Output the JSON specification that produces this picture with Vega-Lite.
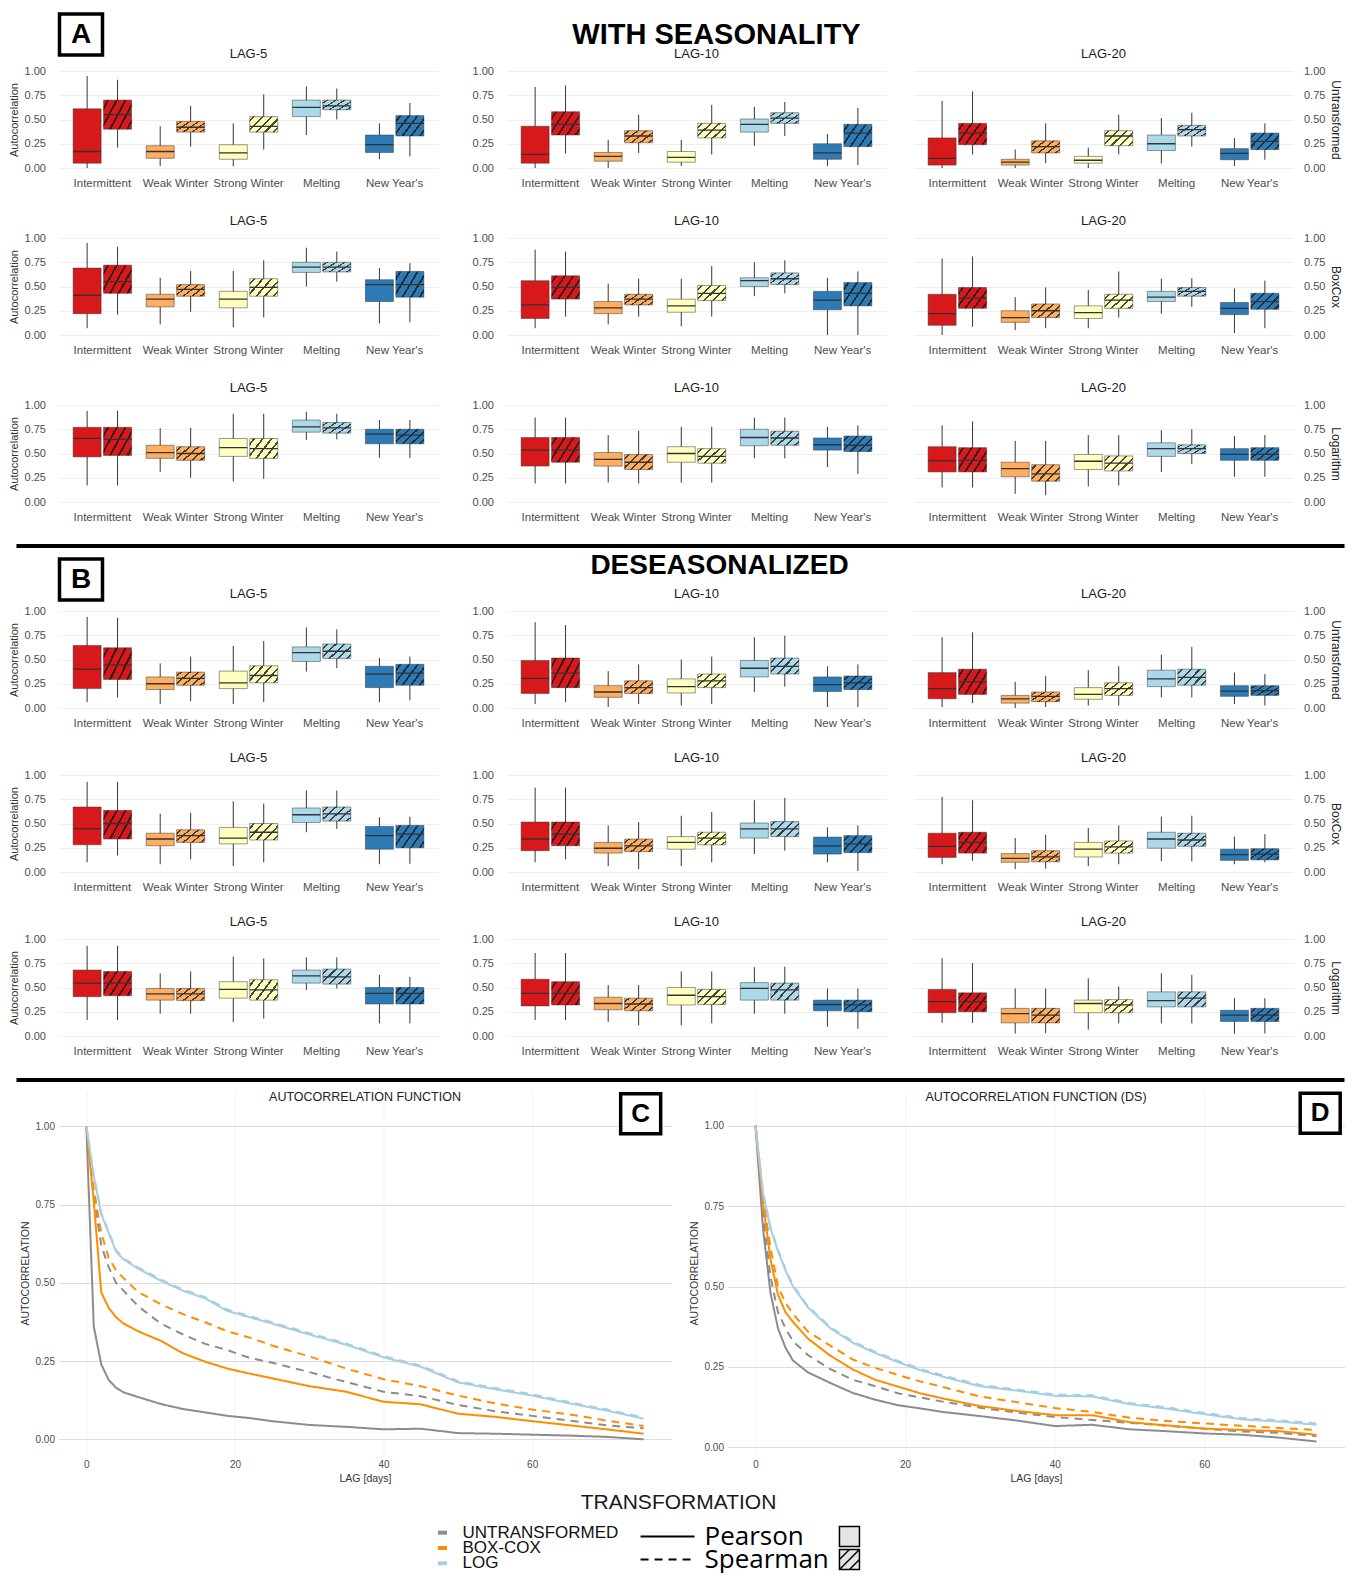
{
"$schema":"https://vega.github.io/schema/vega-lite/v6.json",
"padding":{"left":7.5,"top":12,"right":0,"bottom":0},
"background":"white",
"params":[{"name":"hatch","value":{"gradient":"linear","x1":0,"y1":0,"x2":1.19,"y2":0.655,"stops":[{"offset":0,"color":"rgba(0,0,0,0)"},{"offset":0.08,"color":"rgba(0,0,0,0)"},{"offset":0.08,"color":"rgba(25,25,25,0.8)"},{"offset":0.13,"color":"rgba(25,25,25,0.8)"},{"offset":0.13,"color":"rgba(0,0,0,0)"},{"offset":0.28,"color":"rgba(0,0,0,0)"},{"offset":0.28,"color":"rgba(25,25,25,0.8)"},{"offset":0.33,"color":"rgba(25,25,25,0.8)"},{"offset":0.33,"color":"rgba(0,0,0,0)"},{"offset":0.48,"color":"rgba(0,0,0,0)"},{"offset":0.48,"color":"rgba(25,25,25,0.8)"},{"offset":0.53,"color":"rgba(25,25,25,0.8)"},{"offset":0.53,"color":"rgba(0,0,0,0)"},{"offset":0.68,"color":"rgba(0,0,0,0)"},{"offset":0.68,"color":"rgba(25,25,25,0.8)"},{"offset":0.73,"color":"rgba(25,25,25,0.8)"},{"offset":0.73,"color":"rgba(0,0,0,0)"},{"offset":0.88,"color":"rgba(0,0,0,0)"},{"offset":0.88,"color":"rgba(25,25,25,0.8)"},{"offset":0.93,"color":"rgba(25,25,25,0.8)"},{"offset":0.93,"color":"rgba(0,0,0,0)"},{"offset":1,"color":"rgba(0,0,0,0)"}]}}],
"config":{
"font":"Liberation Sans",
"view":{"stroke":null},
"axis":{"domain":false,"ticks":false,"tickSize":0,"labelOverlap":false,"labelColor":"#4d4d4d","titleColor":"#333333","titleFontWeight":"normal","gridColor":"#eeeeee","labelFontSize":11,"titleFontSize":11},
"axisBand":{"labelAngle":0,"labelPadding":9,"labelFontSize":11.5,"grid":false},
"axisY":{"format":".2f","labelPadding":13},
"scale":{"bandPaddingInner":0.28,"bandPaddingOuter":0.14},
"range":{"category":["#d7191c","#fdae61","#ffffbf","#abd9e9","#2c7bb6"]},
"title":{"fontSize":13,"fontWeight":"normal","color":"#1a1a1a","offset":4.5,"frame":"group"},
"style":{
"whisk":{"stroke":"#666666","strokeWidth":0.8},
"box":{"stroke":"#3a3a3a","strokeWidth":0.6,"strokeOpacity":0.85,"fillOpacity":1},
"med":{"fillOpacity":0,"stroke":"#333333","strokeWidth":1.3}
}
},
"datasets":{
"box":[
{"s":"A","t":"U","l":5,"c":"Intermittent","m":"P","lo":0,"q1":0.05,"md":0.17,"q3":0.61,"hi":0.95},
{"s":"A","t":"U","l":5,"c":"Intermittent","m":"S","lo":0.21,"q1":0.40,"md":0.55,"q3":0.70,"hi":0.91},
{"s":"A","t":"U","l":5,"c":"Weak Winter","m":"P","lo":0.02,"q1":0.10,"md":0.17,"q3":0.23,"hi":0.43},
{"s":"A","t":"U","l":5,"c":"Weak Winter","m":"S","lo":0.22,"q1":0.37,"md":0.42,"q3":0.48,"hi":0.64},
{"s":"A","t":"U","l":5,"c":"Strong Winter","m":"P","lo":0.02,"q1":0.09,"md":0.155,"q3":0.24,"hi":0.46},
{"s":"A","t":"U","l":5,"c":"Strong Winter","m":"S","lo":0.19,"q1":0.37,"md":0.43,"q3":0.53,"hi":0.76},
{"s":"A","t":"U","l":5,"c":"Melting","m":"P","lo":0.34,"q1":0.53,"md":0.625,"q3":0.70,"hi":0.84},
{"s":"A","t":"U","l":5,"c":"Melting","m":"S","lo":0.50,"q1":0.60,"md":0.64,"q3":0.70,"hi":0.82},
{"s":"A","t":"U","l":5,"c":"New Year's","m":"P","lo":0.09,"q1":0.16,"md":0.24,"q3":0.34,"hi":0.46},
{"s":"A","t":"U","l":5,"c":"New Year's","m":"S","lo":0.12,"q1":0.33,"md":0.46,"q3":0.54,"hi":0.67},
{"s":"A","t":"U","l":10,"c":"Intermittent","m":"P","lo":0,"q1":0.05,"md":0.14,"q3":0.43,"hi":0.835},
{"s":"A","t":"U","l":10,"c":"Intermittent","m":"S","lo":0.15,"q1":0.34,"md":0.45,"q3":0.58,"hi":0.85},
{"s":"A","t":"U","l":10,"c":"Weak Winter","m":"P","lo":0,"q1":0.07,"md":0.12,"q3":0.16,"hi":0.29},
{"s":"A","t":"U","l":10,"c":"Weak Winter","m":"S","lo":0.155,"q1":0.26,"md":0.33,"q3":0.385,"hi":0.55},
{"s":"A","t":"U","l":10,"c":"Strong Winter","m":"P","lo":0.02,"q1":0.06,"md":0.11,"q3":0.17,"hi":0.29},
{"s":"A","t":"U","l":10,"c":"Strong Winter","m":"S","lo":0.14,"q1":0.31,"md":0.39,"q3":0.46,"hi":0.65},
{"s":"A","t":"U","l":10,"c":"Melting","m":"P","lo":0.23,"q1":0.37,"md":0.45,"q3":0.505,"hi":0.63},
{"s":"A","t":"U","l":10,"c":"Melting","m":"S","lo":0.33,"q1":0.46,"md":0.515,"q3":0.57,"hi":0.68},
{"s":"A","t":"U","l":10,"c":"New Year's","m":"P","lo":0.02,"q1":0.09,"md":0.155,"q3":0.25,"hi":0.35},
{"s":"A","t":"U","l":10,"c":"New Year's","m":"S","lo":0.03,"q1":0.22,"md":0.36,"q3":0.45,"hi":0.62},
{"s":"A","t":"U","l":20,"c":"Intermittent","m":"P","lo":0,"q1":0.03,"md":0.10,"q3":0.31,"hi":0.69},
{"s":"A","t":"U","l":20,"c":"Intermittent","m":"S","lo":0.14,"q1":0.24,"md":0.36,"q3":0.46,"hi":0.79},
{"s":"A","t":"U","l":20,"c":"Weak Winter","m":"P","lo":0,"q1":0.03,"md":0.06,"q3":0.09,"hi":0.19},
{"s":"A","t":"U","l":20,"c":"Weak Winter","m":"S","lo":0.05,"q1":0.155,"md":0.22,"q3":0.28,"hi":0.46},
{"s":"A","t":"U","l":20,"c":"Strong Winter","m":"P","lo":0,"q1":0.05,"md":0.08,"q3":0.12,"hi":0.21},
{"s":"A","t":"U","l":20,"c":"Strong Winter","m":"S","lo":0.14,"q1":0.23,"md":0.33,"q3":0.385,"hi":0.55},
{"s":"A","t":"U","l":20,"c":"Melting","m":"P","lo":0.045,"q1":0.18,"md":0.25,"q3":0.34,"hi":0.515},
{"s":"A","t":"U","l":20,"c":"Melting","m":"S","lo":0.22,"q1":0.33,"md":0.395,"q3":0.44,"hi":0.57},
{"s":"A","t":"U","l":20,"c":"New Year's","m":"P","lo":0.02,"q1":0.085,"md":0.15,"q3":0.20,"hi":0.31},
{"s":"A","t":"U","l":20,"c":"New Year's","m":"S","lo":0.085,"q1":0.19,"md":0.275,"q3":0.36,"hi":0.46},
{"s":"A","t":"B","l":5,"c":"Intermittent","m":"P","lo":0.07,"q1":0.22,"md":0.41,"q3":0.69,"hi":0.95},
{"s":"A","t":"B","l":5,"c":"Intermittent","m":"S","lo":0.21,"q1":0.43,"md":0.55,"q3":0.72,"hi":0.91},
{"s":"A","t":"B","l":5,"c":"Weak Winter","m":"P","lo":0.11,"q1":0.29,"md":0.37,"q3":0.42,"hi":0.59},
{"s":"A","t":"B","l":5,"c":"Weak Winter","m":"S","lo":0.24,"q1":0.40,"md":0.47,"q3":0.52,"hi":0.66},
{"s":"A","t":"B","l":5,"c":"Strong Winter","m":"P","lo":0.08,"q1":0.28,"md":0.37,"q3":0.45,"hi":0.66},
{"s":"A","t":"B","l":5,"c":"Strong Winter","m":"S","lo":0.18,"q1":0.40,"md":0.49,"q3":0.58,"hi":0.77},
{"s":"A","t":"B","l":5,"c":"Melting","m":"P","lo":0.50,"q1":0.645,"md":0.70,"q3":0.75,"hi":0.90},
{"s":"A","t":"B","l":5,"c":"Melting","m":"S","lo":0.55,"q1":0.65,"md":0.70,"q3":0.75,"hi":0.86},
{"s":"A","t":"B","l":5,"c":"New Year's","m":"P","lo":0.12,"q1":0.345,"md":0.52,"q3":0.57,"hi":0.69},
{"s":"A","t":"B","l":5,"c":"New Year's","m":"S","lo":0.13,"q1":0.39,"md":0.52,"q3":0.655,"hi":0.74},
{"s":"A","t":"B","l":10,"c":"Intermittent","m":"P","lo":0.07,"q1":0.17,"md":0.31,"q3":0.56,"hi":0.88},
{"s":"A","t":"B","l":10,"c":"Intermittent","m":"S","lo":0.19,"q1":0.37,"md":0.49,"q3":0.61,"hi":0.86},
{"s":"A","t":"B","l":10,"c":"Weak Winter","m":"P","lo":0.11,"q1":0.22,"md":0.28,"q3":0.345,"hi":0.53},
{"s":"A","t":"B","l":10,"c":"Weak Winter","m":"S","lo":0.19,"q1":0.31,"md":0.37,"q3":0.42,"hi":0.58},
{"s":"A","t":"B","l":10,"c":"Strong Winter","m":"P","lo":0.09,"q1":0.235,"md":0.30,"q3":0.37,"hi":0.58},
{"s":"A","t":"B","l":10,"c":"Strong Winter","m":"S","lo":0.19,"q1":0.355,"md":0.43,"q3":0.51,"hi":0.71},
{"s":"A","t":"B","l":10,"c":"Melting","m":"P","lo":0.40,"q1":0.50,"md":0.56,"q3":0.59,"hi":0.75},
{"s":"A","t":"B","l":10,"c":"Melting","m":"S","lo":0.43,"q1":0.52,"md":0.58,"q3":0.64,"hi":0.77},
{"s":"A","t":"B","l":10,"c":"New Year's","m":"P","lo":0,"q1":0.26,"md":0.36,"q3":0.45,"hi":0.59},
{"s":"A","t":"B","l":10,"c":"New Year's","m":"S","lo":0,"q1":0.30,"md":0.43,"q3":0.54,"hi":0.655},
{"s":"A","t":"B","l":20,"c":"Intermittent","m":"P","lo":0,"q1":0.10,"md":0.22,"q3":0.42,"hi":0.79},
{"s":"A","t":"B","l":20,"c":"Intermittent","m":"S","lo":0.085,"q1":0.275,"md":0.38,"q3":0.49,"hi":0.81},
{"s":"A","t":"B","l":20,"c":"Weak Winter","m":"P","lo":0.05,"q1":0.13,"md":0.18,"q3":0.25,"hi":0.39},
{"s":"A","t":"B","l":20,"c":"Weak Winter","m":"S","lo":0.07,"q1":0.18,"md":0.25,"q3":0.32,"hi":0.49},
{"s":"A","t":"B","l":20,"c":"Strong Winter","m":"P","lo":0.07,"q1":0.17,"md":0.23,"q3":0.30,"hi":0.465},
{"s":"A","t":"B","l":20,"c":"Strong Winter","m":"S","lo":0.18,"q1":0.275,"md":0.36,"q3":0.42,"hi":0.655},
{"s":"A","t":"B","l":20,"c":"Melting","m":"P","lo":0.22,"q1":0.345,"md":0.39,"q3":0.45,"hi":0.58},
{"s":"A","t":"B","l":20,"c":"Melting","m":"S","lo":0.29,"q1":0.40,"md":0.45,"q3":0.49,"hi":0.585},
{"s":"A","t":"B","l":20,"c":"New Year's","m":"P","lo":0.02,"q1":0.21,"md":0.275,"q3":0.335,"hi":0.48},
{"s":"A","t":"B","l":20,"c":"New Year's","m":"S","lo":0.07,"q1":0.265,"md":0.345,"q3":0.43,"hi":0.56},
{"s":"A","t":"L","l":5,"c":"Intermittent","m":"P","lo":0.17,"q1":0.465,"md":0.655,"q3":0.77,"hi":0.94},
{"s":"A","t":"L","l":5,"c":"Intermittent","m":"S","lo":0.17,"q1":0.48,"md":0.645,"q3":0.77,"hi":0.94},
{"s":"A","t":"L","l":5,"c":"Weak Winter","m":"P","lo":0.31,"q1":0.45,"md":0.51,"q3":0.585,"hi":0.76},
{"s":"A","t":"L","l":5,"c":"Weak Winter","m":"S","lo":0.25,"q1":0.43,"md":0.50,"q3":0.57,"hi":0.765},
{"s":"A","t":"L","l":5,"c":"Strong Winter","m":"P","lo":0.21,"q1":0.47,"md":0.56,"q3":0.655,"hi":0.91},
{"s":"A","t":"L","l":5,"c":"Strong Winter","m":"S","lo":0.24,"q1":0.45,"md":0.55,"q3":0.655,"hi":0.91},
{"s":"A","t":"L","l":5,"c":"Melting","m":"P","lo":0.64,"q1":0.72,"md":0.775,"q3":0.845,"hi":0.93},
{"s":"A","t":"L","l":5,"c":"Melting","m":"S","lo":0.645,"q1":0.71,"md":0.765,"q3":0.82,"hi":0.91},
{"s":"A","t":"L","l":5,"c":"New Year's","m":"P","lo":0.455,"q1":0.60,"md":0.70,"q3":0.75,"hi":0.845},
{"s":"A","t":"L","l":5,"c":"New Year's","m":"S","lo":0.455,"q1":0.60,"md":0.69,"q3":0.75,"hi":0.845},
{"s":"A","t":"L","l":10,"c":"Intermittent","m":"P","lo":0.19,"q1":0.37,"md":0.535,"q3":0.665,"hi":0.87},
{"s":"A","t":"L","l":10,"c":"Intermittent","m":"S","lo":0.19,"q1":0.41,"md":0.535,"q3":0.665,"hi":0.87},
{"s":"A","t":"L","l":10,"c":"Weak Winter","m":"P","lo":0.20,"q1":0.37,"md":0.44,"q3":0.51,"hi":0.69},
{"s":"A","t":"L","l":10,"c":"Weak Winter","m":"S","lo":0.19,"q1":0.335,"md":0.41,"q3":0.49,"hi":0.735},
{"s":"A","t":"L","l":10,"c":"Strong Winter","m":"P","lo":0.20,"q1":0.41,"md":0.50,"q3":0.57,"hi":0.775},
{"s":"A","t":"L","l":10,"c":"Strong Winter","m":"S","lo":0.20,"q1":0.40,"md":0.47,"q3":0.55,"hi":0.775},
{"s":"A","t":"L","l":10,"c":"Melting","m":"P","lo":0.45,"q1":0.58,"md":0.665,"q3":0.75,"hi":0.87},
{"s":"A","t":"L","l":10,"c":"Melting","m":"S","lo":0.45,"q1":0.585,"md":0.66,"q3":0.73,"hi":0.87},
{"s":"A","t":"L","l":10,"c":"New Year's","m":"P","lo":0.36,"q1":0.535,"md":0.59,"q3":0.66,"hi":0.775},
{"s":"A","t":"L","l":10,"c":"New Year's","m":"S","lo":0.29,"q1":0.52,"md":0.585,"q3":0.68,"hi":0.79},
{"s":"A","t":"L","l":20,"c":"Intermittent","m":"P","lo":0.15,"q1":0.31,"md":0.425,"q3":0.57,"hi":0.79},
{"s":"A","t":"L","l":20,"c":"Intermittent","m":"S","lo":0.15,"q1":0.31,"md":0.43,"q3":0.56,"hi":0.83},
{"s":"A","t":"L","l":20,"c":"Weak Winter","m":"P","lo":0.085,"q1":0.26,"md":0.345,"q3":0.41,"hi":0.63},
{"s":"A","t":"L","l":20,"c":"Weak Winter","m":"S","lo":0.07,"q1":0.215,"md":0.29,"q3":0.385,"hi":0.63},
{"s":"A","t":"L","l":20,"c":"Strong Winter","m":"P","lo":0.16,"q1":0.335,"md":0.42,"q3":0.49,"hi":0.69},
{"s":"A","t":"L","l":20,"c":"Strong Winter","m":"S","lo":0.17,"q1":0.32,"md":0.40,"q3":0.475,"hi":0.69},
{"s":"A","t":"L","l":20,"c":"Melting","m":"P","lo":0.31,"q1":0.47,"md":0.55,"q3":0.61,"hi":0.74},
{"s":"A","t":"L","l":20,"c":"Melting","m":"S","lo":0.39,"q1":0.50,"md":0.55,"q3":0.59,"hi":0.75},
{"s":"A","t":"L","l":20,"c":"New Year's","m":"P","lo":0.26,"q1":0.43,"md":0.49,"q3":0.55,"hi":0.68},
{"s":"A","t":"L","l":20,"c":"New Year's","m":"S","lo":0.26,"q1":0.43,"md":0.49,"q3":0.56,"hi":0.69},
{"s":"B","t":"U","l":5,"c":"Intermittent","m":"P","lo":0.06,"q1":0.20,"md":0.40,"q3":0.645,"hi":0.94},
{"s":"B","t":"U","l":5,"c":"Intermittent","m":"S","lo":0.11,"q1":0.295,"md":0.445,"q3":0.62,"hi":0.93},
{"s":"B","t":"U","l":5,"c":"Weak Winter","m":"P","lo":0.04,"q1":0.19,"md":0.25,"q3":0.32,"hi":0.46},
{"s":"B","t":"U","l":5,"c":"Weak Winter","m":"S","lo":0.07,"q1":0.235,"md":0.305,"q3":0.37,"hi":0.53},
{"s":"B","t":"U","l":5,"c":"Strong Winter","m":"P","lo":0.04,"q1":0.20,"md":0.26,"q3":0.38,"hi":0.64},
{"s":"B","t":"U","l":5,"c":"Strong Winter","m":"S","lo":0.06,"q1":0.26,"md":0.335,"q3":0.435,"hi":0.69},
{"s":"B","t":"U","l":5,"c":"Melting","m":"P","lo":0.375,"q1":0.48,"md":0.57,"q3":0.63,"hi":0.83},
{"s":"B","t":"U","l":5,"c":"Melting","m":"S","lo":0.41,"q1":0.51,"md":0.585,"q3":0.66,"hi":0.81},
{"s":"B","t":"U","l":5,"c":"New Year's","m":"P","lo":0.06,"q1":0.21,"md":0.35,"q3":0.43,"hi":0.515},
{"s":"B","t":"U","l":5,"c":"New Year's","m":"S","lo":0.08,"q1":0.235,"md":0.36,"q3":0.45,"hi":0.53},
{"s":"B","t":"U","l":10,"c":"Intermittent","m":"P","lo":0.04,"q1":0.15,"md":0.305,"q3":0.49,"hi":0.885},
{"s":"B","t":"U","l":10,"c":"Intermittent","m":"S","lo":0.06,"q1":0.21,"md":0.36,"q3":0.515,"hi":0.855},
{"s":"B","t":"U","l":10,"c":"Weak Winter","m":"P","lo":0.01,"q1":0.11,"md":0.165,"q3":0.23,"hi":0.38},
{"s":"B","t":"U","l":10,"c":"Weak Winter","m":"S","lo":0.04,"q1":0.15,"md":0.21,"q3":0.28,"hi":0.45},
{"s":"B","t":"U","l":10,"c":"Strong Winter","m":"P","lo":0.025,"q1":0.155,"md":0.22,"q3":0.30,"hi":0.50},
{"s":"B","t":"U","l":10,"c":"Strong Winter","m":"S","lo":0.04,"q1":0.21,"md":0.28,"q3":0.35,"hi":0.53},
{"s":"B","t":"U","l":10,"c":"Melting","m":"P","lo":0.165,"q1":0.32,"md":0.41,"q3":0.49,"hi":0.73},
{"s":"B","t":"U","l":10,"c":"Melting","m":"S","lo":0.22,"q1":0.35,"md":0.43,"q3":0.515,"hi":0.745},
{"s":"B","t":"U","l":10,"c":"New Year's","m":"P","lo":0.01,"q1":0.17,"md":0.24,"q3":0.32,"hi":0.43},
{"s":"B","t":"U","l":10,"c":"New Year's","m":"S","lo":0.01,"q1":0.19,"md":0.26,"q3":0.33,"hi":0.45},
{"s":"B","t":"U","l":20,"c":"Intermittent","m":"P","lo":0.01,"q1":0.095,"md":0.20,"q3":0.365,"hi":0.73},
{"s":"B","t":"U","l":20,"c":"Intermittent","m":"S","lo":0.05,"q1":0.14,"md":0.27,"q3":0.40,"hi":0.78},
{"s":"B","t":"U","l":20,"c":"Weak Winter","m":"P","lo":0,"q1":0.05,"md":0.095,"q3":0.13,"hi":0.27},
{"s":"B","t":"U","l":20,"c":"Weak Winter","m":"S","lo":0.01,"q1":0.065,"md":0.12,"q3":0.165,"hi":0.33},
{"s":"B","t":"U","l":20,"c":"Strong Winter","m":"P","lo":0.025,"q1":0.09,"md":0.14,"q3":0.21,"hi":0.39},
{"s":"B","t":"U","l":20,"c":"Strong Winter","m":"S","lo":0.025,"q1":0.13,"md":0.20,"q3":0.26,"hi":0.43},
{"s":"B","t":"U","l":20,"c":"Melting","m":"P","lo":0.11,"q1":0.22,"md":0.30,"q3":0.39,"hi":0.55},
{"s":"B","t":"U","l":20,"c":"Melting","m":"S","lo":0.11,"q1":0.235,"md":0.315,"q3":0.40,"hi":0.63},
{"s":"B","t":"U","l":20,"c":"New Year's","m":"P","lo":0.04,"q1":0.12,"md":0.175,"q3":0.23,"hi":0.365},
{"s":"B","t":"U","l":20,"c":"New Year's","m":"S","lo":0.025,"q1":0.13,"md":0.18,"q3":0.23,"hi":0.35},
{"s":"B","t":"B","l":5,"c":"Intermittent","m":"P","lo":0.10,"q1":0.28,"md":0.445,"q3":0.67,"hi":0.93},
{"s":"B","t":"B","l":5,"c":"Intermittent","m":"S","lo":0.17,"q1":0.34,"md":0.50,"q3":0.635,"hi":0.93},
{"s":"B","t":"B","l":5,"c":"Weak Winter","m":"P","lo":0.08,"q1":0.27,"md":0.34,"q3":0.40,"hi":0.60},
{"s":"B","t":"B","l":5,"c":"Weak Winter","m":"S","lo":0.13,"q1":0.305,"md":0.375,"q3":0.435,"hi":0.61},
{"s":"B","t":"B","l":5,"c":"Strong Winter","m":"P","lo":0.06,"q1":0.29,"md":0.35,"q3":0.46,"hi":0.73},
{"s":"B","t":"B","l":5,"c":"Strong Winter","m":"S","lo":0.10,"q1":0.33,"md":0.41,"q3":0.50,"hi":0.705},
{"s":"B","t":"B","l":5,"c":"Melting","m":"P","lo":0.41,"q1":0.51,"md":0.59,"q3":0.66,"hi":0.84},
{"s":"B","t":"B","l":5,"c":"Melting","m":"S","lo":0.445,"q1":0.525,"md":0.60,"q3":0.67,"hi":0.84},
{"s":"B","t":"B","l":5,"c":"New Year's","m":"P","lo":0.08,"q1":0.235,"md":0.375,"q3":0.47,"hi":0.565},
{"s":"B","t":"B","l":5,"c":"New Year's","m":"S","lo":0.085,"q1":0.25,"md":0.39,"q3":0.48,"hi":0.57},
{"s":"B","t":"B","l":10,"c":"Intermittent","m":"P","lo":0.10,"q1":0.22,"md":0.34,"q3":0.515,"hi":0.87},
{"s":"B","t":"B","l":10,"c":"Intermittent","m":"S","lo":0.13,"q1":0.27,"md":0.39,"q3":0.515,"hi":0.87},
{"s":"B","t":"B","l":10,"c":"Weak Winter","m":"P","lo":0.06,"q1":0.195,"md":0.245,"q3":0.305,"hi":0.48},
{"s":"B","t":"B","l":10,"c":"Weak Winter","m":"S","lo":0.03,"q1":0.21,"md":0.27,"q3":0.34,"hi":0.515},
{"s":"B","t":"B","l":10,"c":"Strong Winter","m":"P","lo":0.06,"q1":0.235,"md":0.305,"q3":0.365,"hi":0.58},
{"s":"B","t":"B","l":10,"c":"Strong Winter","m":"S","lo":0.10,"q1":0.28,"md":0.35,"q3":0.41,"hi":0.62},
{"s":"B","t":"B","l":10,"c":"Melting","m":"P","lo":0.185,"q1":0.35,"md":0.445,"q3":0.505,"hi":0.74},
{"s":"B","t":"B","l":10,"c":"Melting","m":"S","lo":0.22,"q1":0.365,"md":0.445,"q3":0.52,"hi":0.765},
{"s":"B","t":"B","l":10,"c":"New Year's","m":"P","lo":0.10,"q1":0.185,"md":0.27,"q3":0.36,"hi":0.46},
{"s":"B","t":"B","l":10,"c":"New Year's","m":"S","lo":0.01,"q1":0.20,"md":0.29,"q3":0.375,"hi":0.48},
{"s":"B","t":"B","l":20,"c":"Intermittent","m":"P","lo":0.08,"q1":0.15,"md":0.265,"q3":0.40,"hi":0.775},
{"s":"B","t":"B","l":20,"c":"Intermittent","m":"S","lo":0.115,"q1":0.195,"md":0.305,"q3":0.41,"hi":0.74},
{"s":"B","t":"B","l":20,"c":"Weak Winter","m":"P","lo":0.03,"q1":0.10,"md":0.14,"q3":0.19,"hi":0.35},
{"s":"B","t":"B","l":20,"c":"Weak Winter","m":"S","lo":0.035,"q1":0.105,"md":0.155,"q3":0.22,"hi":0.385},
{"s":"B","t":"B","l":20,"c":"Strong Winter","m":"P","lo":0.06,"q1":0.155,"md":0.235,"q3":0.305,"hi":0.455},
{"s":"B","t":"B","l":20,"c":"Strong Winter","m":"S","lo":0.08,"q1":0.195,"md":0.26,"q3":0.32,"hi":0.48},
{"s":"B","t":"B","l":20,"c":"Melting","m":"P","lo":0.11,"q1":0.245,"md":0.34,"q3":0.41,"hi":0.57},
{"s":"B","t":"B","l":20,"c":"Melting","m":"S","lo":0.11,"q1":0.265,"md":0.33,"q3":0.40,"hi":0.58},
{"s":"B","t":"B","l":20,"c":"New Year's","m":"P","lo":0.08,"q1":0.12,"md":0.18,"q3":0.235,"hi":0.365},
{"s":"B","t":"B","l":20,"c":"New Year's","m":"S","lo":0.10,"q1":0.125,"md":0.185,"q3":0.24,"hi":0.39},
{"s":"B","t":"L","l":5,"c":"Intermittent","m":"P","lo":0.165,"q1":0.405,"md":0.545,"q3":0.68,"hi":0.93},
{"s":"B","t":"L","l":5,"c":"Intermittent","m":"S","lo":0.165,"q1":0.415,"md":0.545,"q3":0.665,"hi":0.93},
{"s":"B","t":"L","l":5,"c":"Weak Winter","m":"P","lo":0.23,"q1":0.37,"md":0.435,"q3":0.49,"hi":0.645},
{"s":"B","t":"L","l":5,"c":"Weak Winter","m":"S","lo":0.23,"q1":0.365,"md":0.435,"q3":0.49,"hi":0.665},
{"s":"B","t":"L","l":5,"c":"Strong Winter","m":"P","lo":0.145,"q1":0.39,"md":0.48,"q3":0.56,"hi":0.82},
{"s":"B","t":"L","l":5,"c":"Strong Winter","m":"S","lo":0.18,"q1":0.37,"md":0.475,"q3":0.58,"hi":0.80},
{"s":"B","t":"L","l":5,"c":"Melting","m":"P","lo":0.475,"q1":0.545,"md":0.62,"q3":0.68,"hi":0.81},
{"s":"B","t":"L","l":5,"c":"Melting","m":"S","lo":0.49,"q1":0.535,"md":0.61,"q3":0.69,"hi":0.81},
{"s":"B","t":"L","l":5,"c":"New Year's","m":"P","lo":0.13,"q1":0.33,"md":0.44,"q3":0.50,"hi":0.63},
{"s":"B","t":"L","l":5,"c":"New Year's","m":"S","lo":0.13,"q1":0.33,"md":0.44,"q3":0.50,"hi":0.61},
{"s":"B","t":"L","l":10,"c":"Intermittent","m":"P","lo":0.165,"q1":0.31,"md":0.44,"q3":0.585,"hi":0.855},
{"s":"B","t":"L","l":10,"c":"Intermittent","m":"S","lo":0.165,"q1":0.32,"md":0.44,"q3":0.56,"hi":0.855},
{"s":"B","t":"L","l":10,"c":"Weak Winter","m":"P","lo":0.145,"q1":0.27,"md":0.335,"q3":0.40,"hi":0.525},
{"s":"B","t":"L","l":10,"c":"Weak Winter","m":"S","lo":0.11,"q1":0.26,"md":0.33,"q3":0.39,"hi":0.525},
{"s":"B","t":"L","l":10,"c":"Strong Winter","m":"P","lo":0.11,"q1":0.32,"md":0.42,"q3":0.50,"hi":0.665},
{"s":"B","t":"L","l":10,"c":"Strong Winter","m":"S","lo":0.13,"q1":0.325,"md":0.405,"q3":0.48,"hi":0.665},
{"s":"B","t":"L","l":10,"c":"Melting","m":"P","lo":0.23,"q1":0.37,"md":0.49,"q3":0.55,"hi":0.71},
{"s":"B","t":"L","l":10,"c":"Melting","m":"S","lo":0.23,"q1":0.37,"md":0.475,"q3":0.545,"hi":0.715},
{"s":"B","t":"L","l":10,"c":"New Year's","m":"P","lo":0.095,"q1":0.26,"md":0.325,"q3":0.37,"hi":0.49},
{"s":"B","t":"L","l":10,"c":"New Year's","m":"S","lo":0.075,"q1":0.25,"md":0.32,"q3":0.37,"hi":0.49},
{"s":"B","t":"L","l":20,"c":"Intermittent","m":"P","lo":0.135,"q1":0.24,"md":0.355,"q3":0.48,"hi":0.80},
{"s":"B","t":"L","l":20,"c":"Intermittent","m":"S","lo":0.135,"q1":0.25,"md":0.355,"q3":0.445,"hi":0.75},
{"s":"B","t":"L","l":20,"c":"Weak Winter","m":"P","lo":0.025,"q1":0.135,"md":0.23,"q3":0.285,"hi":0.49},
{"s":"B","t":"L","l":20,"c":"Weak Winter","m":"S","lo":0.03,"q1":0.135,"md":0.215,"q3":0.285,"hi":0.49},
{"s":"B","t":"L","l":20,"c":"Strong Winter","m":"P","lo":0.065,"q1":0.24,"md":0.335,"q3":0.37,"hi":0.595},
{"s":"B","t":"L","l":20,"c":"Strong Winter","m":"S","lo":0.13,"q1":0.24,"md":0.32,"q3":0.375,"hi":0.51},
{"s":"B","t":"L","l":20,"c":"Melting","m":"P","lo":0.13,"q1":0.30,"md":0.365,"q3":0.455,"hi":0.645},
{"s":"B","t":"L","l":20,"c":"Melting","m":"S","lo":0.13,"q1":0.30,"md":0.39,"q3":0.455,"hi":0.63},
{"s":"B","t":"L","l":20,"c":"New Year's","m":"P","lo":0.025,"q1":0.15,"md":0.215,"q3":0.265,"hi":0.39},
{"s":"B","t":"L","l":20,"c":"New Year's","m":"S","lo":0.025,"q1":0.15,"md":0.215,"q3":0.285,"hi":0.39}
],
"acf":[
{"p":"C","t":"U","m":"P","x":0,"y":1},{"p":"C","t":"U","m":"P","x":1,"y":0.36},{"p":"C","t":"U","m":"P","x":2,"y":0.24},{"p":"C","t":"U","m":"P","x":3,"y":0.19},{"p":"C","t":"U","m":"P","x":4,"y":0.165},{"p":"C","t":"U","m":"P","x":5,"y":0.15},{"p":"C","t":"U","m":"P","x":7,"y":0.135},{"p":"C","t":"U","m":"P","x":10,"y":0.113},{"p":"C","t":"U","m":"P","x":13,"y":0.097},{"p":"C","t":"U","m":"P","x":16,"y":0.086},{"p":"C","t":"U","m":"P","x":19,"y":0.075},{"p":"C","t":"U","m":"P","x":22,"y":0.068},{"p":"C","t":"U","m":"P","x":25,"y":0.058},{"p":"C","t":"U","m":"P","x":30,"y":0.046},{"p":"C","t":"U","m":"P","x":35,"y":0.04},{"p":"C","t":"U","m":"P","x":40,"y":0.032},{"p":"C","t":"U","m":"P","x":45,"y":0.034},{"p":"C","t":"U","m":"P","x":50,"y":0.02},{"p":"C","t":"U","m":"P","x":55,"y":0.018},{"p":"C","t":"U","m":"P","x":60,"y":0.015},{"p":"C","t":"U","m":"P","x":65,"y":0.012},{"p":"C","t":"U","m":"P","x":70,"y":0.008},{"p":"C","t":"U","m":"P","x":75,"y":0.0},
{"p":"C","t":"U","m":"S","x":0,"y":1},{"p":"C","t":"U","m":"S","x":1,"y":0.78},{"p":"C","t":"U","m":"S","x":2,"y":0.62},{"p":"C","t":"U","m":"S","x":3,"y":0.55},{"p":"C","t":"U","m":"S","x":4,"y":0.5},{"p":"C","t":"U","m":"S","x":5,"y":0.475},{"p":"C","t":"U","m":"S","x":7,"y":0.425},{"p":"C","t":"U","m":"S","x":10,"y":0.37},{"p":"C","t":"U","m":"S","x":13,"y":0.335},{"p":"C","t":"U","m":"S","x":16,"y":0.305},{"p":"C","t":"U","m":"S","x":19,"y":0.285},{"p":"C","t":"U","m":"S","x":22,"y":0.26},{"p":"C","t":"U","m":"S","x":25,"y":0.245},{"p":"C","t":"U","m":"S","x":30,"y":0.215},{"p":"C","t":"U","m":"S","x":35,"y":0.183},{"p":"C","t":"U","m":"S","x":40,"y":0.152},{"p":"C","t":"U","m":"S","x":45,"y":0.138},{"p":"C","t":"U","m":"S","x":50,"y":0.11},{"p":"C","t":"U","m":"S","x":55,"y":0.09},{"p":"C","t":"U","m":"S","x":60,"y":0.075},{"p":"C","t":"U","m":"S","x":65,"y":0.06},{"p":"C","t":"U","m":"S","x":70,"y":0.045},{"p":"C","t":"U","m":"S","x":75,"y":0.035},
{"p":"C","t":"B","m":"P","x":0,"y":1},{"p":"C","t":"B","m":"P","x":1,"y":0.76},{"p":"C","t":"B","m":"P","x":2,"y":0.47},{"p":"C","t":"B","m":"P","x":3,"y":0.42},{"p":"C","t":"B","m":"P","x":4,"y":0.39},{"p":"C","t":"B","m":"P","x":5,"y":0.37},{"p":"C","t":"B","m":"P","x":7,"y":0.345},{"p":"C","t":"B","m":"P","x":10,"y":0.315},{"p":"C","t":"B","m":"P","x":13,"y":0.275},{"p":"C","t":"B","m":"P","x":16,"y":0.248},{"p":"C","t":"B","m":"P","x":19,"y":0.226},{"p":"C","t":"B","m":"P","x":22,"y":0.21},{"p":"C","t":"B","m":"P","x":25,"y":0.195},{"p":"C","t":"B","m":"P","x":30,"y":0.17},{"p":"C","t":"B","m":"P","x":35,"y":0.152},{"p":"C","t":"B","m":"P","x":40,"y":0.12},{"p":"C","t":"B","m":"P","x":45,"y":0.112},{"p":"C","t":"B","m":"P","x":50,"y":0.082},{"p":"C","t":"B","m":"P","x":55,"y":0.072},{"p":"C","t":"B","m":"P","x":60,"y":0.058},{"p":"C","t":"B","m":"P","x":65,"y":0.045},{"p":"C","t":"B","m":"P","x":70,"y":0.032},{"p":"C","t":"B","m":"P","x":75,"y":0.018},
{"p":"C","t":"B","m":"S","x":0,"y":1},{"p":"C","t":"B","m":"S","x":1,"y":0.8},{"p":"C","t":"B","m":"S","x":2,"y":0.66},{"p":"C","t":"B","m":"S","x":3,"y":0.58},{"p":"C","t":"B","m":"S","x":4,"y":0.54},{"p":"C","t":"B","m":"S","x":5,"y":0.515},{"p":"C","t":"B","m":"S","x":7,"y":0.47},{"p":"C","t":"B","m":"S","x":10,"y":0.432},{"p":"C","t":"B","m":"S","x":13,"y":0.4},{"p":"C","t":"B","m":"S","x":16,"y":0.374},{"p":"C","t":"B","m":"S","x":19,"y":0.345},{"p":"C","t":"B","m":"S","x":22,"y":0.325},{"p":"C","t":"B","m":"S","x":25,"y":0.3},{"p":"C","t":"B","m":"S","x":30,"y":0.265},{"p":"C","t":"B","m":"S","x":35,"y":0.226},{"p":"C","t":"B","m":"S","x":40,"y":0.192},{"p":"C","t":"B","m":"S","x":45,"y":0.17},{"p":"C","t":"B","m":"S","x":50,"y":0.14},{"p":"C","t":"B","m":"S","x":55,"y":0.115},{"p":"C","t":"B","m":"S","x":60,"y":0.095},{"p":"C","t":"B","m":"S","x":65,"y":0.08},{"p":"C","t":"B","m":"S","x":70,"y":0.06},{"p":"C","t":"B","m":"S","x":75,"y":0.043},
{"p":"C","t":"L","m":"P","x":0,"y":1},{"p":"C","t":"L","m":"P","x":1,"y":0.84},{"p":"C","t":"L","m":"P","x":2,"y":0.72},{"p":"C","t":"L","m":"P","x":3,"y":0.66},{"p":"C","t":"L","m":"P","x":4,"y":0.6},{"p":"C","t":"L","m":"P","x":5,"y":0.575},{"p":"C","t":"L","m":"P","x":7,"y":0.545},{"p":"C","t":"L","m":"P","x":10,"y":0.507},{"p":"C","t":"L","m":"P","x":13,"y":0.475},{"p":"C","t":"L","m":"P","x":16,"y":0.45},{"p":"C","t":"L","m":"P","x":19,"y":0.41},{"p":"C","t":"L","m":"P","x":22,"y":0.39},{"p":"C","t":"L","m":"P","x":25,"y":0.37},{"p":"C","t":"L","m":"P","x":30,"y":0.335},{"p":"C","t":"L","m":"P","x":35,"y":0.302},{"p":"C","t":"L","m":"P","x":40,"y":0.262},{"p":"C","t":"L","m":"P","x":45,"y":0.232},{"p":"C","t":"L","m":"P","x":50,"y":0.182},{"p":"C","t":"L","m":"P","x":55,"y":0.16},{"p":"C","t":"L","m":"P","x":60,"y":0.14},{"p":"C","t":"L","m":"P","x":65,"y":0.115},{"p":"C","t":"L","m":"P","x":70,"y":0.092},{"p":"C","t":"L","m":"P","x":75,"y":0.066},
{"p":"C","t":"L","m":"S","x":0,"y":1},{"p":"C","t":"L","m":"S","x":1,"y":0.845},{"p":"C","t":"L","m":"S","x":2,"y":0.724},{"p":"C","t":"L","m":"S","x":3,"y":0.664},{"p":"C","t":"L","m":"S","x":4,"y":0.604},{"p":"C","t":"L","m":"S","x":5,"y":0.579},{"p":"C","t":"L","m":"S","x":7,"y":0.549},{"p":"C","t":"L","m":"S","x":10,"y":0.511},{"p":"C","t":"L","m":"S","x":13,"y":0.479},{"p":"C","t":"L","m":"S","x":16,"y":0.454},{"p":"C","t":"L","m":"S","x":19,"y":0.414},{"p":"C","t":"L","m":"S","x":22,"y":0.394},{"p":"C","t":"L","m":"S","x":25,"y":0.374},{"p":"C","t":"L","m":"S","x":30,"y":0.339},{"p":"C","t":"L","m":"S","x":35,"y":0.306},{"p":"C","t":"L","m":"S","x":40,"y":0.266},{"p":"C","t":"L","m":"S","x":45,"y":0.236},{"p":"C","t":"L","m":"S","x":50,"y":0.186},{"p":"C","t":"L","m":"S","x":55,"y":0.164},{"p":"C","t":"L","m":"S","x":60,"y":0.144},{"p":"C","t":"L","m":"S","x":65,"y":0.119},{"p":"C","t":"L","m":"S","x":70,"y":0.096},{"p":"C","t":"L","m":"S","x":75,"y":0.07},
{"p":"D","t":"U","m":"P","x":0,"y":1},{"p":"D","t":"U","m":"P","x":1,"y":0.68},{"p":"D","t":"U","m":"P","x":2,"y":0.48},{"p":"D","t":"U","m":"P","x":3,"y":0.37},{"p":"D","t":"U","m":"P","x":4,"y":0.31},{"p":"D","t":"U","m":"P","x":5,"y":0.27},{"p":"D","t":"U","m":"P","x":7,"y":0.233},{"p":"D","t":"U","m":"P","x":10,"y":0.2},{"p":"D","t":"U","m":"P","x":13,"y":0.169},{"p":"D","t":"U","m":"P","x":16,"y":0.148},{"p":"D","t":"U","m":"P","x":19,"y":0.131},{"p":"D","t":"U","m":"P","x":22,"y":0.121},{"p":"D","t":"U","m":"P","x":25,"y":0.11},{"p":"D","t":"U","m":"P","x":30,"y":0.097},{"p":"D","t":"U","m":"P","x":35,"y":0.083},{"p":"D","t":"U","m":"P","x":40,"y":0.066},{"p":"D","t":"U","m":"P","x":45,"y":0.07},{"p":"D","t":"U","m":"P","x":50,"y":0.056},{"p":"D","t":"U","m":"P","x":55,"y":0.05},{"p":"D","t":"U","m":"P","x":60,"y":0.043},{"p":"D","t":"U","m":"P","x":65,"y":0.039},{"p":"D","t":"U","m":"P","x":70,"y":0.03},{"p":"D","t":"U","m":"P","x":75,"y":0.018},
{"p":"D","t":"U","m":"S","x":0,"y":1},{"p":"D","t":"U","m":"S","x":1,"y":0.72},{"p":"D","t":"U","m":"S","x":2,"y":0.53},{"p":"D","t":"U","m":"S","x":3,"y":0.42},{"p":"D","t":"U","m":"S","x":4,"y":0.37},{"p":"D","t":"U","m":"S","x":5,"y":0.33},{"p":"D","t":"U","m":"S","x":7,"y":0.287},{"p":"D","t":"U","m":"S","x":10,"y":0.243},{"p":"D","t":"U","m":"S","x":13,"y":0.21},{"p":"D","t":"U","m":"S","x":16,"y":0.19},{"p":"D","t":"U","m":"S","x":19,"y":0.168},{"p":"D","t":"U","m":"S","x":22,"y":0.155},{"p":"D","t":"U","m":"S","x":25,"y":0.142},{"p":"D","t":"U","m":"S","x":30,"y":0.123},{"p":"D","t":"U","m":"S","x":35,"y":0.108},{"p":"D","t":"U","m":"S","x":40,"y":0.094},{"p":"D","t":"U","m":"S","x":45,"y":0.085},{"p":"D","t":"U","m":"S","x":50,"y":0.076},{"p":"D","t":"U","m":"S","x":55,"y":0.067},{"p":"D","t":"U","m":"S","x":60,"y":0.058},{"p":"D","t":"U","m":"S","x":65,"y":0.049},{"p":"D","t":"U","m":"S","x":70,"y":0.045},{"p":"D","t":"U","m":"S","x":75,"y":0.035},
{"p":"D","t":"B","m":"P","x":0,"y":1},{"p":"D","t":"B","m":"P","x":1,"y":0.76},{"p":"D","t":"B","m":"P","x":2,"y":0.585},{"p":"D","t":"B","m":"P","x":3,"y":0.475},{"p":"D","t":"B","m":"P","x":4,"y":0.42},{"p":"D","t":"B","m":"P","x":5,"y":0.39},{"p":"D","t":"B","m":"P","x":7,"y":0.338},{"p":"D","t":"B","m":"P","x":10,"y":0.285},{"p":"D","t":"B","m":"P","x":13,"y":0.242},{"p":"D","t":"B","m":"P","x":16,"y":0.21},{"p":"D","t":"B","m":"P","x":19,"y":0.189},{"p":"D","t":"B","m":"P","x":22,"y":0.168},{"p":"D","t":"B","m":"P","x":25,"y":0.152},{"p":"D","t":"B","m":"P","x":30,"y":0.128},{"p":"D","t":"B","m":"P","x":35,"y":0.113},{"p":"D","t":"B","m":"P","x":40,"y":0.1},{"p":"D","t":"B","m":"P","x":45,"y":0.1},{"p":"D","t":"B","m":"P","x":50,"y":0.078},{"p":"D","t":"B","m":"P","x":55,"y":0.068},{"p":"D","t":"B","m":"P","x":60,"y":0.058},{"p":"D","t":"B","m":"P","x":65,"y":0.054},{"p":"D","t":"B","m":"P","x":70,"y":0.05},{"p":"D","t":"B","m":"P","x":75,"y":0.039},
{"p":"D","t":"B","m":"S","x":0,"y":1},{"p":"D","t":"B","m":"S","x":1,"y":0.78},{"p":"D","t":"B","m":"S","x":2,"y":0.62},{"p":"D","t":"B","m":"S","x":3,"y":0.5},{"p":"D","t":"B","m":"S","x":4,"y":0.45},{"p":"D","t":"B","m":"S","x":5,"y":0.415},{"p":"D","t":"B","m":"S","x":7,"y":0.36},{"p":"D","t":"B","m":"S","x":10,"y":0.316},{"p":"D","t":"B","m":"S","x":13,"y":0.273},{"p":"D","t":"B","m":"S","x":16,"y":0.247},{"p":"D","t":"B","m":"S","x":19,"y":0.225},{"p":"D","t":"B","m":"S","x":22,"y":0.205},{"p":"D","t":"B","m":"S","x":25,"y":0.188},{"p":"D","t":"B","m":"S","x":30,"y":0.158},{"p":"D","t":"B","m":"S","x":35,"y":0.14},{"p":"D","t":"B","m":"S","x":40,"y":0.122},{"p":"D","t":"B","m":"S","x":45,"y":0.11},{"p":"D","t":"B","m":"S","x":50,"y":0.092},{"p":"D","t":"B","m":"S","x":55,"y":0.082},{"p":"D","t":"B","m":"S","x":60,"y":0.074},{"p":"D","t":"B","m":"S","x":65,"y":0.067},{"p":"D","t":"B","m":"S","x":70,"y":0.06},{"p":"D","t":"B","m":"S","x":75,"y":0.054},
{"p":"D","t":"L","m":"P","x":0,"y":1},{"p":"D","t":"L","m":"P","x":1,"y":0.79},{"p":"D","t":"L","m":"P","x":2,"y":0.68},{"p":"D","t":"L","m":"P","x":3,"y":0.61},{"p":"D","t":"L","m":"P","x":4,"y":0.55},{"p":"D","t":"L","m":"P","x":5,"y":0.5},{"p":"D","t":"L","m":"P","x":7,"y":0.435},{"p":"D","t":"L","m":"P","x":10,"y":0.37},{"p":"D","t":"L","m":"P","x":13,"y":0.325},{"p":"D","t":"L","m":"P","x":16,"y":0.293},{"p":"D","t":"L","m":"P","x":19,"y":0.265},{"p":"D","t":"L","m":"P","x":22,"y":0.24},{"p":"D","t":"L","m":"P","x":25,"y":0.22},{"p":"D","t":"L","m":"P","x":30,"y":0.19},{"p":"D","t":"L","m":"P","x":35,"y":0.176},{"p":"D","t":"L","m":"P","x":40,"y":0.16},{"p":"D","t":"L","m":"P","x":45,"y":0.158},{"p":"D","t":"L","m":"P","x":50,"y":0.134},{"p":"D","t":"L","m":"P","x":55,"y":0.12},{"p":"D","t":"L","m":"P","x":60,"y":0.103},{"p":"D","t":"L","m":"P","x":65,"y":0.087},{"p":"D","t":"L","m":"P","x":70,"y":0.08},{"p":"D","t":"L","m":"P","x":75,"y":0.07},
{"p":"D","t":"L","m":"S","x":0,"y":1},{"p":"D","t":"L","m":"S","x":1,"y":0.794},{"p":"D","t":"L","m":"S","x":2,"y":0.684},{"p":"D","t":"L","m":"S","x":3,"y":0.614},{"p":"D","t":"L","m":"S","x":4,"y":0.554},{"p":"D","t":"L","m":"S","x":5,"y":0.504},{"p":"D","t":"L","m":"S","x":7,"y":0.439},{"p":"D","t":"L","m":"S","x":10,"y":0.374},{"p":"D","t":"L","m":"S","x":13,"y":0.329},{"p":"D","t":"L","m":"S","x":16,"y":0.297},{"p":"D","t":"L","m":"S","x":19,"y":0.269},{"p":"D","t":"L","m":"S","x":22,"y":0.244},{"p":"D","t":"L","m":"S","x":25,"y":0.224},{"p":"D","t":"L","m":"S","x":30,"y":0.194},{"p":"D","t":"L","m":"S","x":35,"y":0.18},{"p":"D","t":"L","m":"S","x":40,"y":0.164},{"p":"D","t":"L","m":"S","x":45,"y":0.162},{"p":"D","t":"L","m":"S","x":50,"y":0.138},{"p":"D","t":"L","m":"S","x":55,"y":0.124},{"p":"D","t":"L","m":"S","x":60,"y":0.107},{"p":"D","t":"L","m":"S","x":65,"y":0.091},{"p":"D","t":"L","m":"S","x":70,"y":0.084},{"p":"D","t":"L","m":"S","x":75,"y":0.074}
]
},
"columns":1,"align":"none","spacing":8,
"concat":[
{"columns":1,"align":"none","spacing":-10,"concat":[
 {"spacing":-3,"hconcat":[
  {"width":1,"height":41,"data":{"values":[{}]},"mark":{"type":"text","text":""}},
  {"width":43,"height":41,"data":{"values":[{}]},"view":{"stroke":"black","strokeWidth":3.5},"mark":{"type":"text","text":"A","fontSize":28,"fontWeight":"bold","color":"black"}},
  {"width":1224,"height":41,"data":{"values":[{}]},"mark":{"type":"text","text":"WITH SEASONALITY","fontSize":29,"fontWeight":"bold","color":"black"}}
 ]},
 {"spacing":25,"vconcat":[
  {"spacing":27,"hconcat":[
   {"title":"LAG-5","width":380,"height":97,"data":{"name":"box"},"transform":[{"filter":"datum.s=='A'&&datum.t=='U'&&datum.l==5"}],"encoding":{"x":{"field":"c","type":"nominal","sort":null,"title":null},"xOffset":{"field":"m","type":"nominal","scale":{"paddingInner":0.08}}},"layer":[{"mark":{"type":"rule","style":"whisk"},"encoding":{"y":{"field":"lo","type":"quantitative","scale":{"domain":[0,1]},"axis":{"values":[0,0.25,0.5,0.75,1],"title":"Autocorrelation","titlePadding":5}},"y2":{"field":"hi"}}},{"mark":{"type":"bar","style":"box"},"encoding":{"y":{"field":"q1","type":"quantitative","axis":{"values":[0,0.25,0.5,0.75,1]}},"y2":{"field":"q3"},"fill":{"field":"c","type":"nominal","sort":null,"legend":null}}},{"transform":[{"filter":"datum.m=='S'"}],"mark":{"type":"bar","fill":{"expr":"hatch"}},"encoding":{"y":{"field":"q1","type":"quantitative","axis":{"values":[0,0.25,0.5,0.75,1]}},"y2":{"field":"q3"}}},{"mark":{"type":"bar","style":"med"},"encoding":{"y":{"field":"md","type":"quantitative","axis":{"values":[0,0.25,0.5,0.75,1]}},"y2":{"field":"md"}}}]},
   {"title":"LAG-10","width":380,"height":97,"data":{"name":"box"},"transform":[{"filter":"datum.s=='A'&&datum.t=='U'&&datum.l==10"}],"encoding":{"x":{"field":"c","type":"nominal","sort":null,"title":null},"xOffset":{"field":"m","type":"nominal","scale":{"paddingInner":0.08}}},"layer":[{"mark":{"type":"rule","style":"whisk"},"encoding":{"y":{"field":"lo","type":"quantitative","scale":{"domain":[0,1]},"axis":{"values":[0,0.25,0.5,0.75,1],"title":null,"minExtent":41}},"y2":{"field":"hi"}}},{"mark":{"type":"bar","style":"box"},"encoding":{"y":{"field":"q1","type":"quantitative","axis":{"values":[0,0.25,0.5,0.75,1]}},"y2":{"field":"q3"},"fill":{"field":"c","type":"nominal","sort":null,"legend":null}}},{"transform":[{"filter":"datum.m=='S'"}],"mark":{"type":"bar","fill":{"expr":"hatch"}},"encoding":{"y":{"field":"q1","type":"quantitative","axis":{"values":[0,0.25,0.5,0.75,1]}},"y2":{"field":"q3"}}},{"mark":{"type":"bar","style":"med"},"encoding":{"y":{"field":"md","type":"quantitative","axis":{"values":[0,0.25,0.5,0.75,1]}},"y2":{"field":"md"}}}]},
   {"title":"LAG-20","width":380,"height":97,"data":{"name":"box"},"transform":[{"filter":"datum.s=='A'&&datum.t=='U'&&datum.l==20"}],"encoding":{"x":{"field":"c","type":"nominal","sort":null,"title":null},"xOffset":{"field":"m","type":"nominal","scale":{"paddingInner":0.08}}},"layer":[{"mark":{"type":"rule","style":"whisk"},"encoding":{"y":{"field":"lo","type":"quantitative","scale":{"domain":[0,1]},"axis":{"values":[0,0.25,0.5,0.75,1],"orient":"right","title":"Untransformed","labelPadding":10,"titlePadding":4,"titleFontSize":12,"titleColor":"#222222"}},"y2":{"field":"hi"}}},{"mark":{"type":"bar","style":"box"},"encoding":{"y":{"field":"q1","type":"quantitative","axis":{"values":[0,0.25,0.5,0.75,1]}},"y2":{"field":"q3"},"fill":{"field":"c","type":"nominal","sort":null,"legend":null}}},{"transform":[{"filter":"datum.m=='S'"}],"mark":{"type":"bar","fill":{"expr":"hatch"}},"encoding":{"y":{"field":"q1","type":"quantitative","axis":{"values":[0,0.25,0.5,0.75,1]}},"y2":{"field":"q3"}}},{"mark":{"type":"bar","style":"med"},"encoding":{"y":{"field":"md","type":"quantitative","axis":{"values":[0,0.25,0.5,0.75,1]}},"y2":{"field":"md"}}}]}
  ]},
  {"spacing":27,"hconcat":[
   {"title":"LAG-5","width":380,"height":97,"data":{"name":"box"},"transform":[{"filter":"datum.s=='A'&&datum.t=='B'&&datum.l==5"}],"encoding":{"x":{"field":"c","type":"nominal","sort":null,"title":null},"xOffset":{"field":"m","type":"nominal","scale":{"paddingInner":0.08}}},"layer":[{"mark":{"type":"rule","style":"whisk"},"encoding":{"y":{"field":"lo","type":"quantitative","scale":{"domain":[0,1]},"axis":{"values":[0,0.25,0.5,0.75,1],"title":"Autocorrelation","titlePadding":5}},"y2":{"field":"hi"}}},{"mark":{"type":"bar","style":"box"},"encoding":{"y":{"field":"q1","type":"quantitative","axis":{"values":[0,0.25,0.5,0.75,1]}},"y2":{"field":"q3"},"fill":{"field":"c","type":"nominal","sort":null,"legend":null}}},{"transform":[{"filter":"datum.m=='S'"}],"mark":{"type":"bar","fill":{"expr":"hatch"}},"encoding":{"y":{"field":"q1","type":"quantitative","axis":{"values":[0,0.25,0.5,0.75,1]}},"y2":{"field":"q3"}}},{"mark":{"type":"bar","style":"med"},"encoding":{"y":{"field":"md","type":"quantitative","axis":{"values":[0,0.25,0.5,0.75,1]}},"y2":{"field":"md"}}}]},
   {"title":"LAG-10","width":380,"height":97,"data":{"name":"box"},"transform":[{"filter":"datum.s=='A'&&datum.t=='B'&&datum.l==10"}],"encoding":{"x":{"field":"c","type":"nominal","sort":null,"title":null},"xOffset":{"field":"m","type":"nominal","scale":{"paddingInner":0.08}}},"layer":[{"mark":{"type":"rule","style":"whisk"},"encoding":{"y":{"field":"lo","type":"quantitative","scale":{"domain":[0,1]},"axis":{"values":[0,0.25,0.5,0.75,1],"title":null,"minExtent":41}},"y2":{"field":"hi"}}},{"mark":{"type":"bar","style":"box"},"encoding":{"y":{"field":"q1","type":"quantitative","axis":{"values":[0,0.25,0.5,0.75,1]}},"y2":{"field":"q3"},"fill":{"field":"c","type":"nominal","sort":null,"legend":null}}},{"transform":[{"filter":"datum.m=='S'"}],"mark":{"type":"bar","fill":{"expr":"hatch"}},"encoding":{"y":{"field":"q1","type":"quantitative","axis":{"values":[0,0.25,0.5,0.75,1]}},"y2":{"field":"q3"}}},{"mark":{"type":"bar","style":"med"},"encoding":{"y":{"field":"md","type":"quantitative","axis":{"values":[0,0.25,0.5,0.75,1]}},"y2":{"field":"md"}}}]},
   {"title":"LAG-20","width":380,"height":97,"data":{"name":"box"},"transform":[{"filter":"datum.s=='A'&&datum.t=='B'&&datum.l==20"}],"encoding":{"x":{"field":"c","type":"nominal","sort":null,"title":null},"xOffset":{"field":"m","type":"nominal","scale":{"paddingInner":0.08}}},"layer":[{"mark":{"type":"rule","style":"whisk"},"encoding":{"y":{"field":"lo","type":"quantitative","scale":{"domain":[0,1]},"axis":{"values":[0,0.25,0.5,0.75,1],"orient":"right","title":"BoxCox","labelPadding":10,"titlePadding":4,"titleFontSize":12,"titleColor":"#222222"}},"y2":{"field":"hi"}}},{"mark":{"type":"bar","style":"box"},"encoding":{"y":{"field":"q1","type":"quantitative","axis":{"values":[0,0.25,0.5,0.75,1]}},"y2":{"field":"q3"},"fill":{"field":"c","type":"nominal","sort":null,"legend":null}}},{"transform":[{"filter":"datum.m=='S'"}],"mark":{"type":"bar","fill":{"expr":"hatch"}},"encoding":{"y":{"field":"q1","type":"quantitative","axis":{"values":[0,0.25,0.5,0.75,1]}},"y2":{"field":"q3"}}},{"mark":{"type":"bar","style":"med"},"encoding":{"y":{"field":"md","type":"quantitative","axis":{"values":[0,0.25,0.5,0.75,1]}},"y2":{"field":"md"}}}]}
  ]},
  {"spacing":27,"hconcat":[
   {"title":"LAG-5","width":380,"height":97,"data":{"name":"box"},"transform":[{"filter":"datum.s=='A'&&datum.t=='L'&&datum.l==5"}],"encoding":{"x":{"field":"c","type":"nominal","sort":null,"title":null},"xOffset":{"field":"m","type":"nominal","scale":{"paddingInner":0.08}}},"layer":[{"mark":{"type":"rule","style":"whisk"},"encoding":{"y":{"field":"lo","type":"quantitative","scale":{"domain":[0,1]},"axis":{"values":[0,0.25,0.5,0.75,1],"title":"Autocorrelation","titlePadding":5}},"y2":{"field":"hi"}}},{"mark":{"type":"bar","style":"box"},"encoding":{"y":{"field":"q1","type":"quantitative","axis":{"values":[0,0.25,0.5,0.75,1]}},"y2":{"field":"q3"},"fill":{"field":"c","type":"nominal","sort":null,"legend":null}}},{"transform":[{"filter":"datum.m=='S'"}],"mark":{"type":"bar","fill":{"expr":"hatch"}},"encoding":{"y":{"field":"q1","type":"quantitative","axis":{"values":[0,0.25,0.5,0.75,1]}},"y2":{"field":"q3"}}},{"mark":{"type":"bar","style":"med"},"encoding":{"y":{"field":"md","type":"quantitative","axis":{"values":[0,0.25,0.5,0.75,1]}},"y2":{"field":"md"}}}]},
   {"title":"LAG-10","width":380,"height":97,"data":{"name":"box"},"transform":[{"filter":"datum.s=='A'&&datum.t=='L'&&datum.l==10"}],"encoding":{"x":{"field":"c","type":"nominal","sort":null,"title":null},"xOffset":{"field":"m","type":"nominal","scale":{"paddingInner":0.08}}},"layer":[{"mark":{"type":"rule","style":"whisk"},"encoding":{"y":{"field":"lo","type":"quantitative","scale":{"domain":[0,1]},"axis":{"values":[0,0.25,0.5,0.75,1],"title":null,"minExtent":41}},"y2":{"field":"hi"}}},{"mark":{"type":"bar","style":"box"},"encoding":{"y":{"field":"q1","type":"quantitative","axis":{"values":[0,0.25,0.5,0.75,1]}},"y2":{"field":"q3"},"fill":{"field":"c","type":"nominal","sort":null,"legend":null}}},{"transform":[{"filter":"datum.m=='S'"}],"mark":{"type":"bar","fill":{"expr":"hatch"}},"encoding":{"y":{"field":"q1","type":"quantitative","axis":{"values":[0,0.25,0.5,0.75,1]}},"y2":{"field":"q3"}}},{"mark":{"type":"bar","style":"med"},"encoding":{"y":{"field":"md","type":"quantitative","axis":{"values":[0,0.25,0.5,0.75,1]}},"y2":{"field":"md"}}}]},
   {"title":"LAG-20","width":380,"height":97,"data":{"name":"box"},"transform":[{"filter":"datum.s=='A'&&datum.t=='L'&&datum.l==20"}],"encoding":{"x":{"field":"c","type":"nominal","sort":null,"title":null},"xOffset":{"field":"m","type":"nominal","scale":{"paddingInner":0.08}}},"layer":[{"mark":{"type":"rule","style":"whisk"},"encoding":{"y":{"field":"lo","type":"quantitative","scale":{"domain":[0,1]},"axis":{"values":[0,0.25,0.5,0.75,1],"orient":"right","title":"Logarithm","labelPadding":10,"titlePadding":4,"titleFontSize":12,"titleColor":"#222222"}},"y2":{"field":"hi"}}},{"mark":{"type":"bar","style":"box"},"encoding":{"y":{"field":"q1","type":"quantitative","axis":{"values":[0,0.25,0.5,0.75,1]}},"y2":{"field":"q3"},"fill":{"field":"c","type":"nominal","sort":null,"legend":null}}},{"transform":[{"filter":"datum.m=='S'"}],"mark":{"type":"bar","fill":{"expr":"hatch"}},"encoding":{"y":{"field":"q1","type":"quantitative","axis":{"values":[0,0.25,0.5,0.75,1]}},"y2":{"field":"q3"}}},{"mark":{"type":"bar","style":"med"},"encoding":{"y":{"field":"md","type":"quantitative","axis":{"values":[0,0.25,0.5,0.75,1]}},"y2":{"field":"md"}}}]}
  ]}
 ]}
]},
{"columns":1,"align":"none","spacing":-15,"concat":[
 {"columns":1,"align":"none","spacing":3,"concat":[
  {"width":1286,"height":15,"data":{"values":[{}]},"mark":{"type":"rule","color":"black","strokeWidth":4},"encoding":{"x":{"datum":-0.0327,"type":"quantitative","scale":{"domain":[0,1]},"axis":null},"x2":{"datum":1},"y":{"datum":0,"type":"quantitative","scale":{"domain":[0,1]},"axis":null}}},
  {"spacing":-3,"hconcat":[
   {"width":1,"height":41,"data":{"values":[{}]},"mark":{"type":"text","text":""}},
   {"width":43,"height":41,"data":{"values":[{}]},"view":{"stroke":"black","strokeWidth":3.5},"mark":{"type":"text","text":"B","fontSize":28,"fontWeight":"bold","color":"black"}},
   {"width":1230,"height":13,"data":{"values":[{}]},"mark":{"type":"text","text":"DESEASONALIZED","fontSize":28,"fontWeight":"bold","color":"black"}}
  ]}
 ]},
 {"spacing":22,"vconcat":[
  {"spacing":27,"hconcat":[
   {"title":"LAG-5","width":380,"height":97,"data":{"name":"box"},"transform":[{"filter":"datum.s=='B'&&datum.t=='U'&&datum.l==5"}],"encoding":{"x":{"field":"c","type":"nominal","sort":null,"title":null},"xOffset":{"field":"m","type":"nominal","scale":{"paddingInner":0.08}}},"layer":[{"mark":{"type":"rule","style":"whisk"},"encoding":{"y":{"field":"lo","type":"quantitative","scale":{"domain":[0,1]},"axis":{"values":[0,0.25,0.5,0.75,1],"title":"Autocorrelation","titlePadding":5}},"y2":{"field":"hi"}}},{"mark":{"type":"bar","style":"box"},"encoding":{"y":{"field":"q1","type":"quantitative","axis":{"values":[0,0.25,0.5,0.75,1]}},"y2":{"field":"q3"},"fill":{"field":"c","type":"nominal","sort":null,"legend":null}}},{"transform":[{"filter":"datum.m=='S'"}],"mark":{"type":"bar","fill":{"expr":"hatch"}},"encoding":{"y":{"field":"q1","type":"quantitative","axis":{"values":[0,0.25,0.5,0.75,1]}},"y2":{"field":"q3"}}},{"mark":{"type":"bar","style":"med"},"encoding":{"y":{"field":"md","type":"quantitative","axis":{"values":[0,0.25,0.5,0.75,1]}},"y2":{"field":"md"}}}]},
   {"title":"LAG-10","width":380,"height":97,"data":{"name":"box"},"transform":[{"filter":"datum.s=='B'&&datum.t=='U'&&datum.l==10"}],"encoding":{"x":{"field":"c","type":"nominal","sort":null,"title":null},"xOffset":{"field":"m","type":"nominal","scale":{"paddingInner":0.08}}},"layer":[{"mark":{"type":"rule","style":"whisk"},"encoding":{"y":{"field":"lo","type":"quantitative","scale":{"domain":[0,1]},"axis":{"values":[0,0.25,0.5,0.75,1],"title":null,"minExtent":41}},"y2":{"field":"hi"}}},{"mark":{"type":"bar","style":"box"},"encoding":{"y":{"field":"q1","type":"quantitative","axis":{"values":[0,0.25,0.5,0.75,1]}},"y2":{"field":"q3"},"fill":{"field":"c","type":"nominal","sort":null,"legend":null}}},{"transform":[{"filter":"datum.m=='S'"}],"mark":{"type":"bar","fill":{"expr":"hatch"}},"encoding":{"y":{"field":"q1","type":"quantitative","axis":{"values":[0,0.25,0.5,0.75,1]}},"y2":{"field":"q3"}}},{"mark":{"type":"bar","style":"med"},"encoding":{"y":{"field":"md","type":"quantitative","axis":{"values":[0,0.25,0.5,0.75,1]}},"y2":{"field":"md"}}}]},
   {"title":"LAG-20","width":380,"height":97,"data":{"name":"box"},"transform":[{"filter":"datum.s=='B'&&datum.t=='U'&&datum.l==20"}],"encoding":{"x":{"field":"c","type":"nominal","sort":null,"title":null},"xOffset":{"field":"m","type":"nominal","scale":{"paddingInner":0.08}}},"layer":[{"mark":{"type":"rule","style":"whisk"},"encoding":{"y":{"field":"lo","type":"quantitative","scale":{"domain":[0,1]},"axis":{"values":[0,0.25,0.5,0.75,1],"orient":"right","title":"Untransformed","labelPadding":10,"titlePadding":4,"titleFontSize":12,"titleColor":"#222222"}},"y2":{"field":"hi"}}},{"mark":{"type":"bar","style":"box"},"encoding":{"y":{"field":"q1","type":"quantitative","axis":{"values":[0,0.25,0.5,0.75,1]}},"y2":{"field":"q3"},"fill":{"field":"c","type":"nominal","sort":null,"legend":null}}},{"transform":[{"filter":"datum.m=='S'"}],"mark":{"type":"bar","fill":{"expr":"hatch"}},"encoding":{"y":{"field":"q1","type":"quantitative","axis":{"values":[0,0.25,0.5,0.75,1]}},"y2":{"field":"q3"}}},{"mark":{"type":"bar","style":"med"},"encoding":{"y":{"field":"md","type":"quantitative","axis":{"values":[0,0.25,0.5,0.75,1]}},"y2":{"field":"md"}}}]}
  ]},
  {"spacing":27,"hconcat":[
   {"title":"LAG-5","width":380,"height":97,"data":{"name":"box"},"transform":[{"filter":"datum.s=='B'&&datum.t=='B'&&datum.l==5"}],"encoding":{"x":{"field":"c","type":"nominal","sort":null,"title":null},"xOffset":{"field":"m","type":"nominal","scale":{"paddingInner":0.08}}},"layer":[{"mark":{"type":"rule","style":"whisk"},"encoding":{"y":{"field":"lo","type":"quantitative","scale":{"domain":[0,1]},"axis":{"values":[0,0.25,0.5,0.75,1],"title":"Autocorrelation","titlePadding":5}},"y2":{"field":"hi"}}},{"mark":{"type":"bar","style":"box"},"encoding":{"y":{"field":"q1","type":"quantitative","axis":{"values":[0,0.25,0.5,0.75,1]}},"y2":{"field":"q3"},"fill":{"field":"c","type":"nominal","sort":null,"legend":null}}},{"transform":[{"filter":"datum.m=='S'"}],"mark":{"type":"bar","fill":{"expr":"hatch"}},"encoding":{"y":{"field":"q1","type":"quantitative","axis":{"values":[0,0.25,0.5,0.75,1]}},"y2":{"field":"q3"}}},{"mark":{"type":"bar","style":"med"},"encoding":{"y":{"field":"md","type":"quantitative","axis":{"values":[0,0.25,0.5,0.75,1]}},"y2":{"field":"md"}}}]},
   {"title":"LAG-10","width":380,"height":97,"data":{"name":"box"},"transform":[{"filter":"datum.s=='B'&&datum.t=='B'&&datum.l==10"}],"encoding":{"x":{"field":"c","type":"nominal","sort":null,"title":null},"xOffset":{"field":"m","type":"nominal","scale":{"paddingInner":0.08}}},"layer":[{"mark":{"type":"rule","style":"whisk"},"encoding":{"y":{"field":"lo","type":"quantitative","scale":{"domain":[0,1]},"axis":{"values":[0,0.25,0.5,0.75,1],"title":null,"minExtent":41}},"y2":{"field":"hi"}}},{"mark":{"type":"bar","style":"box"},"encoding":{"y":{"field":"q1","type":"quantitative","axis":{"values":[0,0.25,0.5,0.75,1]}},"y2":{"field":"q3"},"fill":{"field":"c","type":"nominal","sort":null,"legend":null}}},{"transform":[{"filter":"datum.m=='S'"}],"mark":{"type":"bar","fill":{"expr":"hatch"}},"encoding":{"y":{"field":"q1","type":"quantitative","axis":{"values":[0,0.25,0.5,0.75,1]}},"y2":{"field":"q3"}}},{"mark":{"type":"bar","style":"med"},"encoding":{"y":{"field":"md","type":"quantitative","axis":{"values":[0,0.25,0.5,0.75,1]}},"y2":{"field":"md"}}}]},
   {"title":"LAG-20","width":380,"height":97,"data":{"name":"box"},"transform":[{"filter":"datum.s=='B'&&datum.t=='B'&&datum.l==20"}],"encoding":{"x":{"field":"c","type":"nominal","sort":null,"title":null},"xOffset":{"field":"m","type":"nominal","scale":{"paddingInner":0.08}}},"layer":[{"mark":{"type":"rule","style":"whisk"},"encoding":{"y":{"field":"lo","type":"quantitative","scale":{"domain":[0,1]},"axis":{"values":[0,0.25,0.5,0.75,1],"orient":"right","title":"BoxCox","labelPadding":10,"titlePadding":4,"titleFontSize":12,"titleColor":"#222222"}},"y2":{"field":"hi"}}},{"mark":{"type":"bar","style":"box"},"encoding":{"y":{"field":"q1","type":"quantitative","axis":{"values":[0,0.25,0.5,0.75,1]}},"y2":{"field":"q3"},"fill":{"field":"c","type":"nominal","sort":null,"legend":null}}},{"transform":[{"filter":"datum.m=='S'"}],"mark":{"type":"bar","fill":{"expr":"hatch"}},"encoding":{"y":{"field":"q1","type":"quantitative","axis":{"values":[0,0.25,0.5,0.75,1]}},"y2":{"field":"q3"}}},{"mark":{"type":"bar","style":"med"},"encoding":{"y":{"field":"md","type":"quantitative","axis":{"values":[0,0.25,0.5,0.75,1]}},"y2":{"field":"md"}}}]}
  ]},
  {"spacing":27,"hconcat":[
   {"title":"LAG-5","width":380,"height":97,"data":{"name":"box"},"transform":[{"filter":"datum.s=='B'&&datum.t=='L'&&datum.l==5"}],"encoding":{"x":{"field":"c","type":"nominal","sort":null,"title":null},"xOffset":{"field":"m","type":"nominal","scale":{"paddingInner":0.08}}},"layer":[{"mark":{"type":"rule","style":"whisk"},"encoding":{"y":{"field":"lo","type":"quantitative","scale":{"domain":[0,1]},"axis":{"values":[0,0.25,0.5,0.75,1],"title":"Autocorrelation","titlePadding":5}},"y2":{"field":"hi"}}},{"mark":{"type":"bar","style":"box"},"encoding":{"y":{"field":"q1","type":"quantitative","axis":{"values":[0,0.25,0.5,0.75,1]}},"y2":{"field":"q3"},"fill":{"field":"c","type":"nominal","sort":null,"legend":null}}},{"transform":[{"filter":"datum.m=='S'"}],"mark":{"type":"bar","fill":{"expr":"hatch"}},"encoding":{"y":{"field":"q1","type":"quantitative","axis":{"values":[0,0.25,0.5,0.75,1]}},"y2":{"field":"q3"}}},{"mark":{"type":"bar","style":"med"},"encoding":{"y":{"field":"md","type":"quantitative","axis":{"values":[0,0.25,0.5,0.75,1]}},"y2":{"field":"md"}}}]},
   {"title":"LAG-10","width":380,"height":97,"data":{"name":"box"},"transform":[{"filter":"datum.s=='B'&&datum.t=='L'&&datum.l==10"}],"encoding":{"x":{"field":"c","type":"nominal","sort":null,"title":null},"xOffset":{"field":"m","type":"nominal","scale":{"paddingInner":0.08}}},"layer":[{"mark":{"type":"rule","style":"whisk"},"encoding":{"y":{"field":"lo","type":"quantitative","scale":{"domain":[0,1]},"axis":{"values":[0,0.25,0.5,0.75,1],"title":null,"minExtent":41}},"y2":{"field":"hi"}}},{"mark":{"type":"bar","style":"box"},"encoding":{"y":{"field":"q1","type":"quantitative","axis":{"values":[0,0.25,0.5,0.75,1]}},"y2":{"field":"q3"},"fill":{"field":"c","type":"nominal","sort":null,"legend":null}}},{"transform":[{"filter":"datum.m=='S'"}],"mark":{"type":"bar","fill":{"expr":"hatch"}},"encoding":{"y":{"field":"q1","type":"quantitative","axis":{"values":[0,0.25,0.5,0.75,1]}},"y2":{"field":"q3"}}},{"mark":{"type":"bar","style":"med"},"encoding":{"y":{"field":"md","type":"quantitative","axis":{"values":[0,0.25,0.5,0.75,1]}},"y2":{"field":"md"}}}]},
   {"title":"LAG-20","width":380,"height":97,"data":{"name":"box"},"transform":[{"filter":"datum.s=='B'&&datum.t=='L'&&datum.l==20"}],"encoding":{"x":{"field":"c","type":"nominal","sort":null,"title":null},"xOffset":{"field":"m","type":"nominal","scale":{"paddingInner":0.08}}},"layer":[{"mark":{"type":"rule","style":"whisk"},"encoding":{"y":{"field":"lo","type":"quantitative","scale":{"domain":[0,1]},"axis":{"values":[0,0.25,0.5,0.75,1],"orient":"right","title":"Logarithm","labelPadding":10,"titlePadding":4,"titleFontSize":12,"titleColor":"#222222"}},"y2":{"field":"hi"}}},{"mark":{"type":"bar","style":"box"},"encoding":{"y":{"field":"q1","type":"quantitative","axis":{"values":[0,0.25,0.5,0.75,1]}},"y2":{"field":"q3"},"fill":{"field":"c","type":"nominal","sort":null,"legend":null}}},{"transform":[{"filter":"datum.m=='S'"}],"mark":{"type":"bar","fill":{"expr":"hatch"}},"encoding":{"y":{"field":"q1","type":"quantitative","axis":{"values":[0,0.25,0.5,0.75,1]}},"y2":{"field":"q3"}}},{"mark":{"type":"bar","style":"med"},"encoding":{"y":{"field":"md","type":"quantitative","axis":{"values":[0,0.25,0.5,0.75,1]}},"y2":{"field":"md"}}}]}
  ]}
 ]}
]},
{"columns":1,"align":"none","spacing":4,"concat":[
 {"width":1286,"height":15,"data":{"values":[{}]},"mark":{"type":"rule","color":"black","strokeWidth":4},"encoding":{"x":{"datum":-0.0327,"type":"quantitative","scale":{"domain":[0,1]},"axis":null},"x2":{"datum":1},"y":{"datum":0,"type":"quantitative","scale":{"domain":[0,1]},"axis":null}}},
 {"spacing":17,"hconcat":[
  {"width":613,"height":364,"title":{"text":"AUTOCORRELATION FUNCTION","fontSize":12.5,"offset":-17,"color":"#222222"},
   "layer":[
    {"data":{"name":"acf"},"transform":[{"filter":"datum.p=='C'"}],"mark":{"type":"line","strokeWidth":2},
     "encoding":{
      "x":{"field":"x","type":"quantitative","scale":{"domain":[-3.75,78.75],"nice":false,"zero":false},"axis":{"values":[0,20,40,60],"title":"LAG [days]","labelPadding":4,"titlePadding":4,"labelFontSize":10,"titleFontSize":10.5,"gridColor":"#f3f3f3"}},
      "y":{"field":"y","type":"quantitative","scale":{"domain":[-0.05,1.113],"nice":false,"zero":false},"axis":{"values":[0,0.25,0.5,0.75,1],"title":"AUTOCORRELATION","labelPadding":4,"titlePadding":5,"labelFontSize":10,"titleFontSize":10.5,"gridColor":"#dcdcdc"}},
      "color":{"field":"t","type":"nominal","scale":{"domain":["U","B","L"],"range":["#8c8c8c","#ff8c00","#a6cee3"]},"legend":null},
      "strokeDash":{"field":"m","type":"nominal","scale":{"domain":["P","S"],"range":[[1,0],[8,6]]},"legend":null}}},
    {"data":{"values":[{}]},"mark":{"type":"point","shape":"square","size":1600,"filled":true,"fill":"white","stroke":"black","strokeWidth":3.5,"opacity":1},"encoding":{"x":{"datum":74.6,"type":"quantitative"},"y":{"datum":1.04,"type":"quantitative"}}},
    {"data":{"values":[{}]},"mark":{"type":"text","text":"C","fontSize":26,"fontWeight":"bold","color":"black"},"encoding":{"x":{"datum":74.6,"type":"quantitative"},"y":{"datum":1.04,"type":"quantitative"}}}
   ]},
  {"width":617,"height":364,"title":{"text":"AUTOCORRELATION FUNCTION (DS)","fontSize":12.5,"offset":-17,"color":"#222222"},
   "layer":[
    {"data":{"name":"acf"},"transform":[{"filter":"datum.p=='D'"}],"mark":{"type":"line","strokeWidth":2},
     "encoding":{
      "x":{"field":"x","type":"quantitative","scale":{"domain":[-3.75,78.75],"nice":false,"zero":false},"axis":{"values":[0,20,40,60],"title":"LAG [days]","labelPadding":4,"titlePadding":4,"labelFontSize":10,"titleFontSize":10.5,"gridColor":"#f3f3f3"}},
      "y":{"field":"y","type":"quantitative","scale":{"domain":[-0.024,1.108],"nice":false,"zero":false},"axis":{"values":[0,0.25,0.5,0.75,1],"title":"AUTOCORRELATION","labelPadding":4,"titlePadding":5,"labelFontSize":10,"titleFontSize":10.5,"gridColor":"#dcdcdc"}},
      "color":{"field":"t","type":"nominal","scale":{"domain":["U","B","L"],"range":["#8c8c8c","#ff8c00","#a6cee3"]},"legend":null},
      "strokeDash":{"field":"m","type":"nominal","scale":{"domain":["P","S"],"range":[[1,0],[8,6]]},"legend":null}}},
    {"data":{"values":[{}]},"mark":{"type":"point","shape":"square","size":1600,"filled":true,"fill":"white","stroke":"black","strokeWidth":3.5,"opacity":1},"encoding":{"x":{"datum":75.5,"type":"quantitative"},"y":{"datum":1.039,"type":"quantitative"}}},
    {"data":{"values":[{}]},"mark":{"type":"text","text":"D","fontSize":26,"fontWeight":"bold","color":"black"},"encoding":{"x":{"datum":75.5,"type":"quantitative"},"y":{"datum":1.039,"type":"quantitative"}}}
   ]}
 ]}
]},
{"spacing":0,"hconcat":[
 {"width":371,"height":46,"data":{"values":[{}]},"mark":{"type":"text","text":""}},
 {"spacing":9,"vconcat":[
  {"width":440,"height":22,"data":{"values":[{}]},"mark":{"type":"text","text":"TRANSFORMATION","fontSize":21,"color":"#1a1a1a","dx":26}},
  {"spacing":0,"hconcat":[
   {"width":200,"height":46,"data":{"values":[{"t":"UNTRANSFORMED","k":"U"},{"t":"BOX-COX","k":"B"},{"t":"LOG","k":"L"}]},
    "encoding":{"y":{"field":"t","type":"nominal","sort":null,"axis":null,"scale":{"type":"point","padding":0.5}}},
    "layer":[
     {"mark":{"type":"point","shape":"M-1,0H1","size":81,"strokeWidth":4,"opacity":1},"encoding":{"x":{"datum":0.05,"type":"quantitative","scale":{"domain":[0,1]},"axis":null},"color":{"field":"k","type":"nominal","scale":{"domain":["U","B","L"],"range":["#8c8c8c","#ff8c00","#a6cee3"]},"legend":null}}},
     {"mark":{"type":"text","align":"left","fontSize":17,"color":"#111111"},"encoding":{"x":{"datum":0.15,"type":"quantitative"},"text":{"field":"t"}}}
    ]},
   {"width":240,"height":46,"data":{"values":[{"m":"P","lab":"Pearson"},{"m":"S","lab":"Spearman"}]},
    "encoding":{"y":{"field":"m","type":"nominal","sort":null,"axis":null,"scale":{"type":"point","padding":0.5}}},
    "layer":[
     {"mark":{"type":"point","shape":"M-1,0H1","size":2916,"strokeWidth":1.8,"color":"black","opacity":1},"encoding":{"x":{"datum":0.146,"type":"quantitative","scale":{"domain":[0,1]},"axis":null},"strokeDash":{"field":"m","type":"nominal","scale":{"domain":["P","S"],"range":[[1,0],[8,6]]},"legend":null}}},
     {"mark":{"type":"text","align":"left","fontSize":26,"font":"Open Sans","color":"black"},"encoding":{"x":{"datum":0.3,"type":"quantitative"},"text":{"field":"lab"}}},
     {"mark":{"type":"point","size":400,"strokeWidth":1.5,"filled":true,"fill":"#e4e4e4","stroke":"black","opacity":1},"encoding":{"x":{"datum":0.904,"type":"quantitative"},"shape":{"field":"m","type":"nominal","scale":{"domain":["P","S"],"range":["square","M-1,-1H1V1H-1Z M-1,0L0,-1 M-1,1L1,-1 M0,1L1,0"]},"legend":null}}}
    ]}
  ]}
 ]}
]}
]
}
